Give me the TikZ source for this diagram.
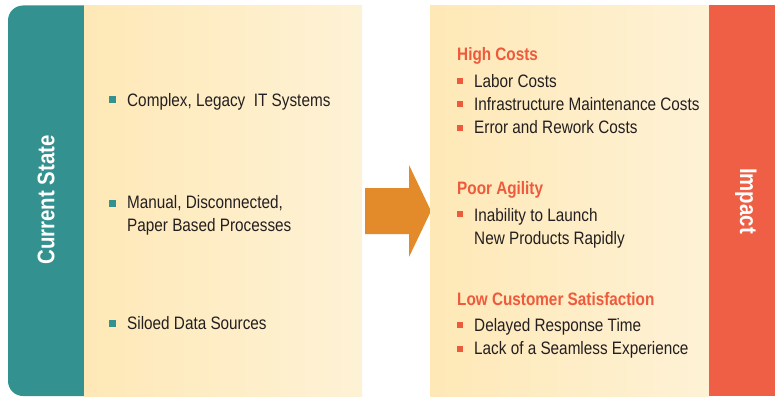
\documentclass[tikz,border=0pt]{standalone}
\usepackage{fontspec}
\setmainfont{Liberation Sans}[FakeStretch=0.85]
\usepackage{xcolor}
\definecolor{tealbar}{HTML}{33918F}
\definecolor{redbar}{HTML}{EE5F45}
\definecolor{headred}{HTML}{EE5A3C}
\definecolor{arroworange}{HTML}{E38B2A}
\definecolor{creamL}{HTML}{FEE8B6}
\definecolor{creamR}{HTML}{FEF2D6}
\definecolor{ink}{HTML}{231F20}
\newcommand{\itemfont}{\fontsize{18}{23.4}\selectfont}
\newcommand{\barfont}{\fontsize{24}{24}\selectfont\bfseries}

\tikzset{
  bultext/.style={anchor=base west, inner sep=0pt, font=\itemfont, text=ink, align=left},
  hdr/.style={bultext, font=\itemfont\bfseries, text=headred},
  tsq/.style={fill=tealbar, minimum size=6.5pt, inner sep=0pt},
  rsq/.style={fill=headred, minimum size=6pt, inner sep=0pt},
  bartext/.style={font=\barfont, text=white, inner sep=0pt}
}

\begin{document}
\begin{tikzpicture}[x=1pt,y=-1pt]
\useasboundingbox (0,0) rectangle (775,396);

% current state panel
\fill[tealbar, rounded corners=15pt] (8,5.5) rectangle (110,396);
\shade[left color=creamL, right color=creamR] (84,5.5) rectangle (362,396);
\node[bartext, rotate=90] (cur) at (46,200) {Current State};

\node[tsq] (sq1) at (112.5,99.5) {};
\node[bultext] (cur1) at (127,106.5) {Complex, Legacy\ \ IT Systems};
\node[tsq] (sq2) at (112.5,203.5) {};
% base of a two-line node is its last line
\node[bultext] (cur2) at (127,231.6) {Manual, Disconnected,\\Paper Based Processes};
\node[tsq] (sq3) at (112.5,323.5) {};
\node[bultext] (cur3) at (127,329) {Siloed Data Sources};

% arrow
\fill[arroworange] (365,188) -- (409,188) -- (409,165) -- (431,211)
  -- (409,257) -- (409,234) -- (365,234) -- cycle;

% impact panel
\shade[left color=creamL, right color=creamR] (430,5.5) rectangle (709,396);
\fill[redbar] (709,5.5) rectangle (775,396);
\node[bartext, rotate=-90] (imp) at (746,201) {Impact};

\node[hdr] (h1) at (457,60) {High Costs};
\node[rsq] (r1) at (460,80.5) {};
\node[bultext] (i1) at (474,87.3) {Labor Costs};
\node[rsq] (r2) at (460,104.3) {};
\node[bultext] (i2) at (474,110.5) {Infrastructure Maintenance Costs};
\node[rsq] (r3) at (460,127.7) {};
\node[bultext] (i3) at (474,133) {Error and Rework Costs};

\node[hdr] (h2) at (457,194.3) {Poor Agility};
\node[rsq] (r4) at (460,214.3) {};
\node[bultext] (i4) at (474,244.5) {Inability to Launch\\New Products Rapidly};

\node[hdr] (h3) at (457,305) {Low Customer Satisfaction};
\node[rsq] (r5) at (460,325) {};
\node[bultext] (i5) at (474,331) {Delayed Response Time};
\node[rsq] (r6) at (460,349) {};
\node[bultext] (i6) at (474,354.5) {Lack of a Seamless Experience};

\end{tikzpicture}
\end{document}
